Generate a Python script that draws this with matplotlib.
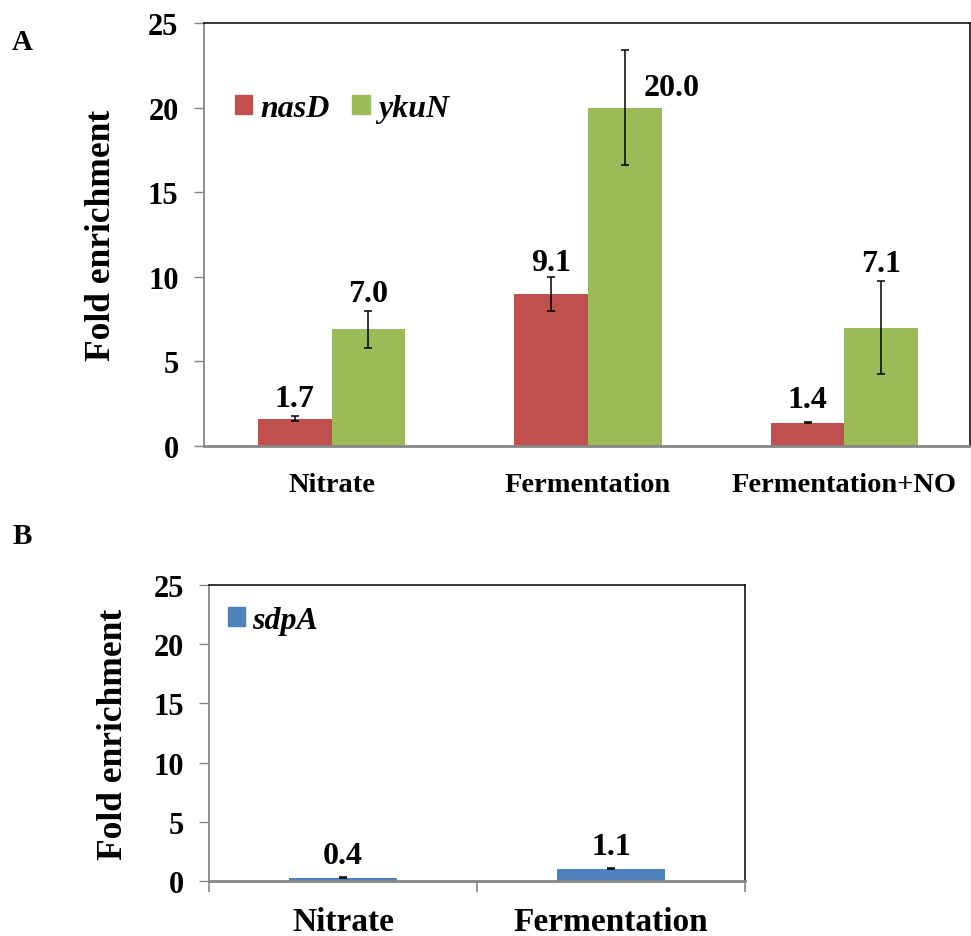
import matplotlib
matplotlib.use("Agg")
import matplotlib.pyplot as plt
from matplotlib.patches import Patch

# ---------------- data ----------------
conditions_a = ["Nitrate", "Fermentation", "Fermentation+NO"]
nasD = [1.62, 8.97, 1.38]
nasD_err = [0.17, 1.00, 0.04]
nasD_labels = ["1.7", "9.1", "1.4"]
ykuN = [6.90, 20.0, 6.99]
ykuN_err = [1.08, 3.42, 2.75]
ykuN_labels = ["7.0", "20.0", "7.1"]

conditions_b = ["Nitrate", "Fermentation"]
sdpA = [0.28, 1.04]
sdpA_err = [0.03, 0.03]
sdpA_labels = ["0.4", "1.1"]

yticks = [0, 5, 10, 15, 20, 25]

# ---------------- style ----------------
RED = "#C0504D"
GREEN = "#9BBB59"
BLUE = "#4F81BD"
GRAY = "#868686"
SERIF = ["Liberation Serif", "DejaVu Serif"]
plt.rcParams["font.family"] = SERIF
plt.rcParams["font.weight"] = "bold"

W, H = 971, 937
fig = plt.figure(figsize=(W / 100, H / 100), dpi=100)


def px_axes(left, top, right, bottom):
    return fig.add_axes([left / W, 1 - bottom / H, (right - left) / W, (bottom - top) / H])


def style_axes(ax):
    ax.set_ylim(0, 25)
    ax.set_yticks(yticks)
    ax.set_yticklabels([str(t) for t in yticks], fontsize=22, fontweight="bold")
    ax.tick_params(axis="y", direction="out", length=7, width=1, color=GRAY, pad=11)
    for side in ("top", "right"):
        ax.spines[side].set_color("black")
        ax.spines[side].set_linewidth(1.1)
    ax.spines["left"].set_color(GRAY)
    ax.spines["left"].set_linewidth(1.3)
    ax.spines["bottom"].set_color(GRAY)
    ax.spines["bottom"].set_linewidth(2.0)


# ---------------- panel A ----------------
axA = px_axes(203.5, 24, 970, 447)
xa = list(range(len(conditions_a)))
bw = 0.287
xr = [x - bw / 2 for x in xa]
xg = [x + bw / 2 for x in xa]
errkw = dict(ecolor="black", elinewidth=1.1, capsize=3.2, capthick=1.1)
axA.bar(xr, nasD, width=bw, color=RED, yerr=nasD_err, error_kw=errkw, zorder=2)
axA.bar(xg, ykuN, width=bw, color=GREEN, yerr=ykuN_err, error_kw=errkw, zorder=2)
axA.set_xlim(-0.50, 2.49)
style_axes(axA)
axA.set_xticks(xa)
axA.set_xticklabels(conditions_a, fontsize=20.5, fontweight="bold")
axA.tick_params(axis="x", length=0, pad=19)

# data labels (offsets in points relative to top of error bar)
offA_red = [(0, 12.5), (0, 11), (0, 16)]
offA_green = [(0, 12.5), (34, 14.5), (0, 12.5)]
for i in xa:
    axA.annotate(nasD_labels[i], (xr[i], nasD[i] + nasD_err[i]), xytext=offA_red[i],
                 textcoords="offset points", ha="center", va="center",
                 fontsize=23, fontweight="bold")
    yy = ykuN[i] + ykuN_err[i] if i != 1 else ykuN[i]
    axA.annotate(ykuN_labels[i], (xg[i], yy), xytext=offA_green[i],
                 textcoords="offset points", ha="center", va="center",
                 fontsize=23, fontweight="bold")

axA.legend(handles=[Patch(color=RED, label="nasD"), Patch(color=GREEN, label="ykuN")],
           loc="upper left", bbox_to_anchor=(0.041, 0.833), ncol=2, frameon=False,
           prop=dict(family=SERIF, style="italic", weight="bold", size=23),
           handlelength=0.55, handleheight=0.55, handletextpad=0.25, columnspacing=0.7,
           borderaxespad=0, borderpad=0)

fig.text(101 / W, 1 - 235 / H, "Fold enrichment", rotation=90, ha="center", va="center",
         fontsize=25.5, fontweight="bold")
fig.text(22 / W, 1 - 42 / H, "A", ha="center", va="center", fontsize=21, fontweight="bold")

# ---------------- panel B ----------------
axB = px_axes(209, 586, 745, 882)
xb = list(range(len(conditions_b)))
axB.bar(xb, sdpA, width=0.4, color=BLUE, yerr=sdpA_err, error_kw=errkw, zorder=2)
axB.set_xlim(-0.5, 1.5)
style_axes(axB)
axB.set_xticks(xb)
axB.set_xticklabels(conditions_b, fontsize=24, fontweight="bold")
axB.tick_params(axis="x", which="major", length=0, pad=18)
axB.set_xticks([-0.5, 0.5, 1.5], minor=True)
axB.tick_params(axis="x", which="minor", direction="out", length=8, width=1.2, color=GRAY)

offB = [(0, 16), (0, 16)]
for i in xb:
    axB.annotate(sdpA_labels[i], (xb[i], sdpA[i] + sdpA_err[i]), xytext=offB[i],
                 textcoords="offset points", ha="center", va="center",
                 fontsize=23, fontweight="bold")

axB.legend(handles=[Patch(color=BLUE, label="sdpA")],
           loc="upper left", bbox_to_anchor=(0.035, 0.93), frameon=False,
           prop=dict(family=SERIF, style="italic", weight="bold", size=23),
           handlelength=0.55, handleheight=0.55, handletextpad=0.2,
           borderaxespad=0, borderpad=0)

fig.text(113 / W, 1 - 734 / H, "Fold enrichment", rotation=90, ha="center", va="center",
         fontsize=25.5, fontweight="bold")
fig.text(22 / W, 1 - 537 / H, "B", ha="center", va="center", fontsize=21, fontweight="bold")

fig.savefig("out.png", dpi=100)
